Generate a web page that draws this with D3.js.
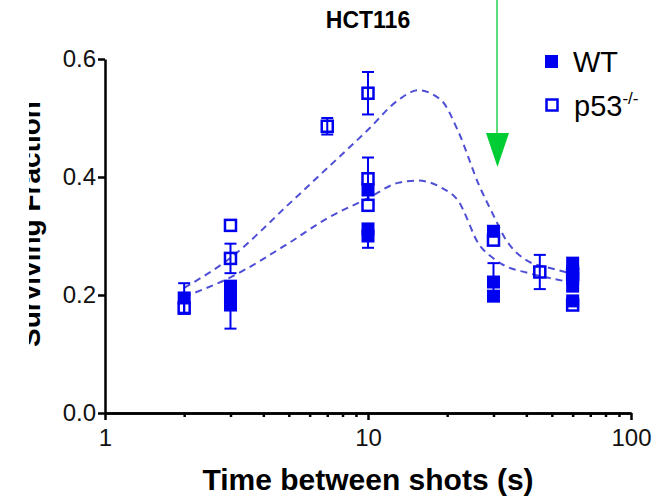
<!DOCTYPE html>
<html lang="en">
<head>
  <meta charset="UTF-8">
  <title>HCT116</title>
  <style>
    body { margin: 0; background: #fff; }
    text { font-family: Arial, "Liberation Sans", sans-serif; }
    .axis path, .axis line { stroke: #000; stroke-width: 2.5; }
    .axis text { font-size: 24px; fill: #111; }
    .fit { fill: none; stroke: #4f4fd6; stroke-width: 2; stroke-dasharray: 7 5; }
    .err { stroke: #0000f0; stroke-width: 2; }
  </style>
</head>
<body>
  <svg width="664" height="497"></svg>
  <script src="https://cdn.jsdelivr.net/npm/d3@7"></script>
  <script>
    // measured points: time (s), surviving fraction, error (SEM)
    var wtTime = [2, 3, 3, 3, 10, 10, 10, 30, 30, 30, 60, 60, 60, 60, 60]
    var wtValue = [0.195, 0.215, 0.197, 0.183, 0.378, 0.312, 0.3, 0.308, 0.222, 0.198, 0.254, 0.24, 0.228, 0.215, 0.19]
    var wtError = [0.025, 0, 0, 0.04, 0, 0, 0.02, 0, 0.032, 0, 0, 0, 0, 0, 0]

    var p53Time = [2, 3, 3, 7, 10, 10, 10, 30, 45, 60, 60]
    var p53Value = [0.178, 0.318, 0.262, 0.486, 0.542, 0.397, 0.352, 0.293, 0.239, 0.235, 0.183]
    var p53Error = [0.01, 0, 0.025, 0.014, 0.036, 0.036, 0, 0, 0.029, 0, 0]

    // fitted curves
    var fitTime = [2, 3, 5, 7, 10, 13, 15.5, 19, 22, 26.5, 30, 33, 40, 50, 60]
    var wtFit = [0.197, 0.23, 0.288, 0.33, 0.364, 0.39, 0.394, 0.382, 0.36, 0.285, 0.262, 0.25, 0.238, 0.228, 0.221]
    var p53Fit = [0.212, 0.263, 0.354, 0.415, 0.48, 0.53, 0.547, 0.53, 0.478, 0.385, 0.335, 0.298, 0.259, 0.245, 0.236]

    var xTicks = [1, 10, 100]
    var xMinor = [2, 3, 4, 5, 6, 7, 8, 9, 20, 30, 40, 50, 60, 70, 80, 90]
    var yTicks = [0, 0.2, 0.4, 0.6]

    var svg = d3.select('svg')
    var blue = '#0000f0'
    var sq = 13

    var x = d3.scaleLog().domain([1, 100]).range([105, 631])
    var y = d3.scaleLinear().domain([0, 0.6]).range([413, 59])

    // y label, partly cut off on the left like the source figure
    svg.append('clipPath').attr('id', 'cut')
      .append('rect').attr('x', 29).attr('y', 0).attr('width', 60).attr('height', 497)
    svg.append('g').attr('clip-path', 'url(#cut)')
      .append('text')
      .attr('transform', 'translate(40,224) rotate(-90)')
      .attr('text-anchor', 'middle')
      .style('font-size', '28px')
      .style('font-weight', 'bold')
      .text('Surviving Fraction')

    // title
    svg.append('text')
      .attr('x', 368).attr('y', 28)
      .attr('text-anchor', 'middle')
      .style('font-size', '23px')
      .style('font-weight', 'bold')
      .text('HCT116')

    // axes
    svg.append('g').attr('class', 'axis')
      .attr('transform', 'translate(0,413)')
      .call(d3.axisBottom(x).tickValues(xMinor).tickSize(4).tickSizeOuter(0).tickFormat(''))
    svg.append('g').attr('class', 'axis')
      .attr('transform', 'translate(0,413)')
      .call(d3.axisBottom(x).tickValues(xTicks).tickSize(7).tickSizeOuter(0).tickPadding(9).tickFormat(d3.format('d')))
    svg.append('g').attr('class', 'axis')
      .attr('transform', 'translate(105,0)')
      .call(d3.axisLeft(y).tickValues(yTicks).tickSize(7).tickSizeOuter(0).tickPadding(2).tickFormat(d3.format('.1f')))

    svg.append('text')
      .attr('x', 368).attr('y', 490)
      .attr('text-anchor', 'middle')
      .style('font-size', '30px')
      .style('font-weight', 'bold')
      .text('Time between shots (s)')

    // fit curves
    var line = d3.line()
      .x(function(d) { return x(d[0]) })
      .y(function(d) { return y(d[1]) })
      .curve(d3.curveMonotoneX)
    svg.append('path').attr('class', 'fit').attr('d', line(d3.zip(fitTime, p53Fit)))
    svg.append('path').attr('class', 'fit').attr('d', line(d3.zip(fitTime, wtFit)))

    function drawSeries(times, values, errors, filled) {
      var data = times.map(function(t, i) { return { t: t, v: values[i], e: errors[i] } })
      var g = svg.append('g')
      var bars = g.selectAll('.eb').data(data.filter(function(d) { return d.e > 0 }))
        .enter().append('g').attr('class', 'eb')
      bars.append('line').attr('class', 'err')
        .attr('x1', function(d) { return x(d.t) }).attr('x2', function(d) { return x(d.t) })
        .attr('y1', function(d) { return y(d.v - d.e) }).attr('y2', function(d) { return y(d.v + d.e) })
      ;[-1, 1].forEach(function(s) {
        bars.append('line').attr('class', 'err')
          .attr('x1', function(d) { return x(d.t) - 6 }).attr('x2', function(d) { return x(d.t) + 6 })
          .attr('y1', function(d) { return y(d.v + s * d.e) }).attr('y2', function(d) { return y(d.v + s * d.e) })
      })
      g.selectAll('rect').data(data).enter().append('rect')
        .attr('x', function(d) { return x(d.t) - sq / 2 + (filled ? 0 : 1) })
        .attr('y', function(d) { return y(d.v) - sq / 2 + (filled ? 0 : 1) })
        .attr('width', filled ? sq : sq - 2).attr('height', filled ? sq : sq - 2)
        .attr('fill', filled ? blue : 'none')
        .attr('stroke', blue)
        .attr('stroke-width', filled ? 0 : 2.5)
    }
    drawSeries(p53Time, p53Value, p53Error, false)
    drawSeries(wtTime, wtValue, wtError, true)

    // legend
    var legend = svg.append('g')
    legend.append('rect').attr('x', 545).attr('y', 55).attr('width', 13).attr('height', 13).attr('fill', blue)
    legend.append('rect').attr('x', 546.5).attr('y', 99.5).attr('width', 11).attr('height', 11)
      .attr('fill', 'none').attr('stroke', blue).attr('stroke-width', 2.5)
    legend.append('text').attr('x', 573).attr('y', 72).style('font-size', '29px').text('WT')
    var p = legend.append('text').attr('x', 574).attr('y', 116).style('font-size', '29px')
    p.append('tspan').text('p53')
    p.append('tspan').attr('dy', -12).style('font-size', '17px').text('-/-')

    // green arrow
    svg.append('line').attr('x1', 497).attr('x2', 497).attr('y1', 0).attr('y2', 136)
      .attr('stroke', '#5ddc7e').attr('stroke-width', 2)
    svg.append('path').attr('d', 'M486,133 L509,133 L497.5,167 Z').attr('fill', '#00cc33')
  </script>
</body>
</html>
